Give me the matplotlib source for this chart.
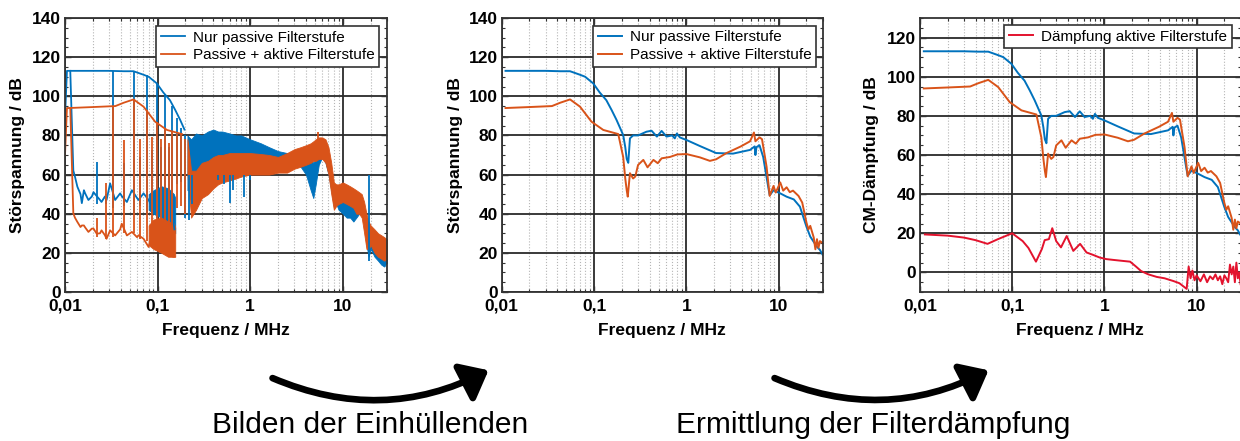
import numpy as np
import matplotlib.pyplot as plt
from matplotlib.patches import FancyArrowPatch
from matplotlib.ticker import FixedLocator, LogLocator, MultipleLocator, NullFormatter

plt.rcParams['font.family'] = ['Liberation Sans', 'DejaVu Sans']

BLUE = '#0072BD'
ORANGE = '#D95319'
RED = '#E3122D'

# envelope: nur passive Filterstufe (MHz, dB)
env_blue_f = [0.011, 0.02, 0.03, 0.043, 0.055, 0.0705, 0.08, 0.098, 0.115, 0.136, 0.155, 0.175, 0.195, 0.207,
              0.218, 0.226, 0.235, 0.245, 0.265, 0.3, 0.37, 0.42, 0.48, 0.54, 0.61, 0.7, 0.75, 0.79, 0.85,
              1.0, 1.4, 2.1, 3.2, 4.9, 5.5, 5.6, 5.75, 6.2, 6.8, 7.7, 8.0, 8.8, 10.4, 12.2, 14.6, 17.0,
              20.0, 22.0, 25.9, 28.0, 30.0]
env_blue_db = [113, 113, 113, 112.8, 112.8, 111, 110, 106.6, 102, 98, 93, 88, 83, 80.2,
               74, 68, 66, 78.5, 80, 80, 81.9, 82.4, 79.4, 82.3, 79.4, 80, 78.5, 81, 79,
               77.7, 74.6, 71, 70.7, 72.6, 74.4, 70, 74, 75, 69, 53.8, 49.4, 52, 50.4, 48.7, 47.3, 43.6,
               33.4, 28.3, 23.2, 21.5, 19]

# envelope: passive + aktive Filterstufe
env_orange_f = [0.011, 0.02, 0.035, 0.043, 0.055, 0.0705, 0.094, 0.126, 0.183, 0.207, 0.218, 0.226, 0.232,
                0.245, 0.265, 0.28, 0.3, 0.342, 0.38, 0.44, 0.49, 0.54, 0.665, 0.8, 0.93, 1.0, 1.4, 1.8,
                2.1, 2.7, 3.9, 4.9, 5.4, 5.6, 6.2, 6.6, 7.4, 8.0, 8.8, 9.3, 10.4, 11.2, 12.2, 13.2, 14.3,
                16.4, 18.0, 20.0, 21.0, 22.0, 24.0, 25.0, 26.0, 27.0, 28.0, 30.0]
env_orange_db = [94, 94.5, 95, 96.7, 98.4, 94.7, 87, 82.8, 80.7, 69, 58, 52, 48.7,
                 60.7, 58, 59, 64.9, 67.5, 63.7, 67.5, 65.8, 68.3, 69, 70.3, 70.4, 70.5, 68.8, 67,
                 67.8, 70.9, 74.4, 77, 81.5, 77, 79, 78.1, 64, 49.1, 54.2, 50.8, 56, 51.8, 53.5, 51, 51.8,
                 49.1, 45.7, 35.5, 32, 33.8, 27.8, 21.8, 27, 22.6, 26, 25]

# Dämpfung aktive Filterstufe
att_f = [0.0113, 0.02, 0.03, 0.04, 0.054, 0.07, 0.1, 0.13, 0.15, 0.181, 0.21, 0.225, 0.25, 0.272, 0.3, 0.338,
         0.39, 0.46, 0.545, 0.64, 0.75, 0.89, 1.05, 1.25, 1.5, 1.9, 2.2, 2.5, 3.0, 3.7, 4.5, 5.6, 6.5, 7.8,
         8.2, 8.6, 9.0, 9.5, 10.0, 11.0, 12.0, 13.0, 14.0, 15.0, 16.0, 17.0, 18.0, 19.0, 20.0, 21.0, 22.0,
         23.0, 24.0, 25.0, 26.0, 27.0, 28.0, 29.0, 30.0]
att_db = [19.4, 18.8, 17.8, 16.5, 14.6, 17, 20, 16, 12.5, 5.5, 12, 16.5, 17, 22.6, 16, 12.8,
          18.6, 11, 14.6, 10.2, 9, 7.6, 6.8, 6.4, 6, 5.5, 3, 0.7, -1, -2.3, -3, -4.4, -5.5, -8.4,
          3, -3, 1, -4, -1.5, -4.5, -1, -5, -2, -3.5, -1, -4, -2, -6, -1.5, -3, -5,
          4, -1, 3, -5, 5, -3, 0, -6]

# raw spectrum (left panel): harmonic lines (MHz, bottom dB, top dB)
spk_f = [0.022, 0.028, 0.033, 0.043, 0.055, 0.065, 0.077, 0.088, 0.099, 0.11, 0.121, 0.132, 0.143,
         0.162, 0.18, 0.2]
spk_blue_lo = [45, 45, 43, 44, 40, 44, 40, 42, 38, 40, 37, 38, 34, 55, 56, 38]
spk_blue_hi = [66.6, 50, 113, 66, 113, 69, 111, 72.5, 106.6, 74, 101, 74, 95, 89, 84, 80]
spk_orange_lo = [28, 27, 28, 30, 30, 27, 26, 24, 22, 22, 20, 20, 18, 43, 44, 40]
spk_orange_hi = [38, 55.6, 95, 77.7, 98.4, 78, 93, 79, 87, 78, 84, 76, 82, 80.7, 80.5, 78]

# raw spectrum: noise floor below 150 kHz
base_f = [0.0114, 0.0123, 0.0128, 0.0136, 0.0147, 0.0152, 0.016, 0.0165, 0.0179, 0.0195, 0.0203, 0.022,
          0.0239, 0.0248, 0.027, 0.0281, 0.0307, 0.0348, 0.0394, 0.041, 0.0466, 0.0528, 0.06, 0.0622,
          0.0705, 0.08, 0.0833, 0.0985, 0.116, 0.13, 0.147, 0.152]
base_blue = [113, 62, 59, 53.8, 50, 45.4, 52, 50.4, 47, 48.8, 51, 49, 47, 46, 48.8, 47, 55.5, 47, 50.4,
             49, 46, 52, 48, 47, 50.4, 47, 45.4, 47, 43.6, 42, 37, 32]
base_orange = [94, 40.2, 38, 35.8, 33.2, 34, 34, 33, 30.7, 32.4, 32.4, 29.8, 30, 31.5, 29, 27.2, 31.5,
               28.9, 32, 34.9, 28.9, 30.7, 28, 29, 27.2, 23, 26, 24, 22, 20, 18, 18]

# raw spectrum: dense band above 150 kHz (lower / upper edge)
band_f = [0.21, 0.23, 0.26, 0.3, 0.35, 0.4, 0.45, 0.5, 0.6, 0.7, 0.8, 1.0, 1.3, 1.6, 2.0, 2.5, 3.0, 3.5,
          4.0, 4.5, 4.8, 5.1, 5.5, 6.0, 6.5, 7.0, 7.5, 8.0, 8.5, 9.0, 10, 11, 12, 13, 14, 15, 16, 17, 18,
          19, 20, 22, 24, 26, 28, 30]
band_blue_hi = [80, 78, 81, 80, 82, 83, 82, 82, 81, 80, 80, 78, 76, 74, 72, 71, 70, 69, 69, 68, 66, 68,
                70, 70, 69, 65, 58, 52, 50, 48, 47, 46, 45, 46, 44, 44, 43, 40, 36, 32, 31, 29, 27, 25, 22, 20]
band_blue_lo = [52, 54, 60, 62, 63, 63, 63, 63, 63, 63, 63, 64, 64, 64, 64, 65, 65, 64, 60, 52, 48, 55,
                65, 69, 66, 60, 52, 44, 45, 42, 40, 38, 38, 36, 38, 40, 40, 35, 24, 18, 22, 18, 16, 14, 13, 15]
band_orange_hi = [78, 62, 62, 66, 67, 69, 70, 70, 71, 71, 71, 71, 70.5, 70, 69, 71, 73, 74, 75, 76, 77, 78,
                  79, 79, 78, 74, 66, 56, 55, 55, 56, 55, 54, 53, 52, 51, 50, 46, 40, 36, 34, 32, 30, 29, 28, 27]
band_orange_lo = [60, 38, 42, 48, 50, 53, 55, 56, 57, 58, 59, 60, 60, 60, 61, 61, 63, 64, 65, 66, 67, 67,
                  68, 68, 66, 60, 50, 42, 44, 45, 46, 45, 44, 43, 40, 40, 38, 30, 22, 22, 24, 20, 18, 17, 16, 17]
band_low_f = [0.08, 0.09, 0.11, 0.13, 0.15, 0.155]
band_low_orange_lo = [24, 22, 20, 18, 18, 18]
band_low_orange_hi = [34, 37, 38, 36, 35, 33]
band_low_blue_lo = [42, 40, 38, 35, 32, 30]
band_low_blue_hi = [50, 52, 54, 53, 50, 48]
dip_blue_f = [0.22, 0.235, 0.45, 0.52, 0.6, 0.66, 0.85, 1.0, 19.0]
dip_blue_db = [37, 45, 57, 55, 45.5, 52, 48.7, 57, 16]

xticks = [0.01, 0.1, 1, 10]
xticklabels = ['0,01', '0,1', '1', '10']
labels = ['Nur passive Filterstufe', 'Passive + aktive Filterstufe', 'Dämpfung aktive Filterstufe']

W, H = 1240, 441
fig = plt.figure(figsize=(W / 100, H / 100), dpi=100)


def px_axes(x0, x1, y0, y1):
    return fig.add_axes([x0 / W, 1 - y1 / H, (x1 - x0) / W, (y1 - y0) / H])


def style(ax, ylim, ylabel, ylab_x):
    ax.set_xscale('log')
    ax.set_xlim(0.01, 30)
    ax.set_ylim(*ylim)
    ax.xaxis.set_major_locator(FixedLocator(xticks))
    ax.set_xticklabels(xticklabels)
    ax.xaxis.set_minor_locator(LogLocator(base=10, subs=np.arange(2, 10)))
    ax.xaxis.set_minor_formatter(NullFormatter())
    ax.yaxis.set_major_locator(MultipleLocator(20))
    ax.yaxis.set_minor_locator(MultipleLocator(5))
    ax.grid(which='major', color='#2a2a2a', lw=1.3)
    ax.grid(which='minor', axis='x', color='#b5b5b5', lw=0.8, ls=':')
    ax.set_axisbelow(True)
    ax.tick_params(which='both', direction='in', top=True, right=True, color='#333333')
    ax.tick_params(which='major', length=4, width=1)
    ax.tick_params(which='minor', length=2.5, width=0.8)
    ax.tick_params(axis='x', labelsize=12.5, pad=5)
    ax.tick_params(axis='y', labelsize=12.5, pad=3)
    for lab in ax.get_xticklabels() + ax.get_yticklabels():
        lab.set_fontweight('bold')
    for sp in ax.spines.values():
        sp.set_color('#333333')
        sp.set_linewidth(1.3)
    ax.set_xlabel('Frequenz / MHz', fontsize=12.5, fontweight='bold')
    ax.xaxis.label.set_va('center')
    ax.xaxis.set_label_coords(0.5, -0.139)
    ax.set_ylabel(ylabel, fontsize=12.5, fontweight='bold')
    ax.yaxis.label.set_va('center')
    ax.yaxis.set_label_coords(ylab_x, 0.5)


def legend(ax, handles, names, anchor):
    leg = ax.legend(handles, names, loc='upper right', bbox_to_anchor=anchor, borderaxespad=0,
                    fontsize=11, handlelength=1.6, handletextpad=0.5, borderpad=0.3,
                    labelspacing=0.25, fancybox=False, framealpha=1, edgecolor='#333333')
    leg.get_frame().set_linewidth(1.2)


# panel 1: raw spectra
ax1 = px_axes(65, 387, 18, 292)
style(ax1, (0, 140), 'Störspannung / dB', -0.146)
lw = 1.3
ax1.fill_between(band_f, band_blue_lo, band_blue_hi, color=BLUE, lw=0.6)
ax1.fill_between(band_low_f, band_low_blue_lo, band_low_blue_hi, color=BLUE, lw=0.6)
ax1.vlines(dip_blue_f, [60] * len(dip_blue_f), dip_blue_db, color=BLUE, lw=lw)
ax1.plot(base_f, base_blue, color=BLUE, lw=lw)
ax1.vlines(spk_f, spk_blue_lo, spk_blue_hi, color=BLUE, lw=lw)
hb, = ax1.plot([0.01, 0.0105] + env_blue_f[:13], [89, 113] + env_blue_db[:13], color=BLUE, lw=lw)
ax1.fill_between(band_f, band_orange_lo, band_orange_hi, color=ORANGE, lw=0.6)
ax1.fill_between(band_low_f, band_low_orange_lo, band_low_orange_hi, color=ORANGE, lw=0.6)
ax1.plot(base_f, base_orange, color=ORANGE, lw=lw)
ax1.vlines(spk_f, spk_orange_lo, spk_orange_hi, color=ORANGE, lw=lw)
ax1.vlines([5.4], [76], [82], color=ORANGE, lw=lw)
ho, = ax1.plot([0.01, 0.0105] + env_orange_f[:9], [70, 94] + env_orange_db[:9], color=ORANGE, lw=lw)
legend(ax1, [hb, ho], labels[:2], (0.975, 0.971))

# panel 2: envelopes
ax2 = px_axes(501.7, 822.7, 18, 292)
style(ax2, (0, 140), 'Störspannung / dB', -0.145)
hb, = ax2.plot(env_blue_f, env_blue_db, color=BLUE, lw=1.4)
ho, = ax2.plot(env_orange_f, env_orange_db, color=ORANGE, lw=1.4)
legend(ax2, [hb, ho], labels[:2], (0.979, 0.972))

# panel 3: attenuation
ax3 = px_axes(920, 1240.6, 18, 292)
style(ax3, (-10, 130), 'CM-Dämpfung / dB', -0.151)
ax3.plot(env_blue_f, env_blue_db, color=BLUE, lw=1.4)
ax3.plot(env_orange_f, env_orange_db, color=ORANGE, lw=1.4)
hr, = ax3.plot(att_f, att_db, color=RED, lw=1.4)
legend(ax3, [hr], labels[2:], (0.972, 0.974))

# arrows and captions
for (x0, y0, x1, y1) in [(270, 377, 491, 369), (772, 377, 991, 369)]:
    arr = FancyArrowPatch((x0 / W, 1 - y0 / H), (x1 / W, 1 - y1 / H), transform=fig.transFigure,
                          connectionstyle='arc3,rad=0.24', arrowstyle='-|>,head_length=0.55,head_width=0.45',
                          mutation_scale=28, lw=4.8, color='black', capstyle='round')
    fig.add_artist(arr)

fig.text(370 / W, 1 - 425 / H, 'Bilden der Einhüllenden', fontsize=21.5, ha='center', va='center')
fig.text(873 / W, 1 - 425 / H, 'Ermittlung der Filterdämpfung', fontsize=21.5, ha='center', va='center')

fig.savefig('out.png', dpi=100)
